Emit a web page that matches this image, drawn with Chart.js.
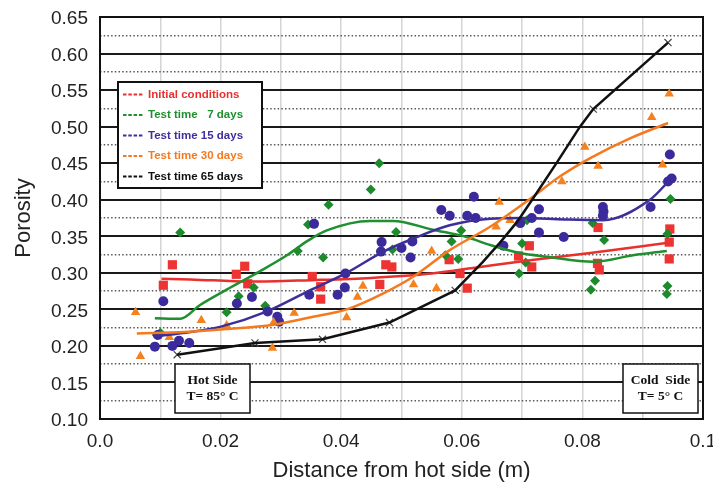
<!DOCTYPE html>
<html>
<head>
<meta charset="utf-8">
<script src="https://cdn.jsdelivr.net/npm/chart.js@4.4.0/dist/chart.umd.min.js"></script>
<style>
  html, body { margin: 0; padding: 0; background: #fff; }
  #wrap { width: 713px; height: 487px; }
</style>
</head>
<body>
<div id="wrap"><canvas id="chart" width="713" height="487"></canvas></div>
<script>
// measured samples, [distance from hot side (m), porosity]
const initialPoints = [[0.0105, 0.283], [0.012, 0.311], [0.0226, 0.298], [0.024, 0.309], [0.0245, 0.285],
  [0.0352, 0.295], [0.0366, 0.281], [0.0366, 0.264], [0.0464, 0.284], [0.0474, 0.311], [0.0484, 0.308],
  [0.0579, 0.318], [0.0597, 0.299], [0.0609, 0.279], [0.0694, 0.323], [0.0712, 0.337], [0.0716, 0.308],
  [0.0826, 0.362], [0.0825, 0.313], [0.0828, 0.304], [0.0945, 0.36], [0.0944, 0.342], [0.0944, 0.319]];

const day7Points = [[0.0094, 0.215], [0.01, 0.218], [0.0133, 0.355], [0.021, 0.246], [0.023, 0.268],
  [0.0255, 0.28], [0.0274, 0.255], [0.0328, 0.33], [0.0345, 0.366], [0.037, 0.321], [0.0379, 0.393],
  [0.0449, 0.414], [0.0463, 0.45], [0.0485, 0.332], [0.0491, 0.356], [0.0573, 0.324], [0.0583, 0.343],
  [0.0594, 0.319], [0.0599, 0.358], [0.0695, 0.299], [0.07, 0.34], [0.0706, 0.314], [0.0708, 0.372],
  [0.0814, 0.277], [0.0817, 0.368], [0.0821, 0.289], [0.0836, 0.345], [0.094, 0.271], [0.0941, 0.282],
  [0.0941, 0.353], [0.0946, 0.401]];

const day15Points = [[0.0091, 0.199], [0.0096, 0.215], [0.0105, 0.261], [0.012, 0.2], [0.0131, 0.207],
  [0.0148, 0.204], [0.0227, 0.258], [0.0252, 0.267], [0.0278, 0.247], [0.0294, 0.24], [0.0297, 0.233],
  [0.0347, 0.27], [0.0355, 0.367], [0.0394, 0.27], [0.0406, 0.28], [0.0407, 0.299], [0.0466, 0.329],
  [0.0467, 0.342], [0.05, 0.334], [0.0515, 0.321], [0.0518, 0.343], [0.0566, 0.386], [0.058, 0.378],
  [0.0609, 0.378], [0.062, 0.404], [0.0623, 0.375], [0.0669, 0.337], [0.0697, 0.368], [0.0716, 0.375],
  [0.0728, 0.387], [0.0728, 0.355], [0.0769, 0.349], [0.0834, 0.39], [0.0835, 0.384], [0.0834, 0.378],
  [0.0913, 0.39], [0.0945, 0.462], [0.0948, 0.429], [0.0942, 0.425]];

const day30Points = [[0.0059, 0.246], [0.0067, 0.186], [0.0115, 0.212], [0.0168, 0.235], [0.021, 0.228],
  [0.0286, 0.197], [0.0288, 0.232], [0.0322, 0.245], [0.0409, 0.239], [0.0427, 0.267], [0.0436, 0.282],
  [0.052, 0.284], [0.055, 0.33], [0.0558, 0.279], [0.0657, 0.363], [0.0662, 0.397], [0.068, 0.372],
  [0.0766, 0.425], [0.0804, 0.472], [0.0826, 0.446], [0.0915, 0.513], [0.0933, 0.448], [0.0944, 0.545]];

const day65Points = [[0.0128, 0.188], [0.0257, 0.204], [0.0369, 0.209], [0.048, 0.232], [0.0589, 0.276],
  [0.0818, 0.524], [0.0942, 0.615]];

// fitted trend curves
const initialCurve = [[0.0102, 0.292], [0.015, 0.291], [0.025, 0.288], [0.035, 0.29], [0.045, 0.293],
  [0.055, 0.299], [0.063, 0.308], [0.072, 0.318], [0.0813, 0.327], [0.0942, 0.341]];
const day7Curve = [[0.0091, 0.238], [0.0133, 0.237], [0.0166, 0.256], [0.021, 0.277], [0.0265, 0.302],
  [0.031, 0.324], [0.0345, 0.344], [0.0376, 0.358], [0.0448, 0.371], [0.0486, 0.371], [0.0552, 0.359],
  [0.0608, 0.349], [0.0647, 0.338], [0.0697, 0.327], [0.0741, 0.322], [0.0818, 0.315], [0.0884, 0.324],
  [0.094, 0.33]];
const day15Curve = [[0.009, 0.213], [0.015, 0.219], [0.0199, 0.226], [0.0276, 0.247], [0.0348, 0.276],
  [0.0409, 0.3], [0.047, 0.329], [0.052, 0.347], [0.058, 0.365], [0.0647, 0.374], [0.07, 0.375],
  [0.077, 0.373], [0.0834, 0.372], [0.0912, 0.4], [0.0945, 0.427]];
const day30Curve = [[0.0061, 0.217], [0.014, 0.219], [0.021, 0.223], [0.0287, 0.229], [0.0348, 0.239],
  [0.0409, 0.25], [0.047, 0.272], [0.052, 0.295], [0.058, 0.331], [0.0647, 0.363], [0.0713, 0.401],
  [0.0763, 0.432], [0.0813, 0.457], [0.0879, 0.484], [0.0942, 0.505]];
const day65Curve = [[0.0128, 0.188], [0.0257, 0.204], [0.0369, 0.209], [0.048, 0.232], [0.0589, 0.276],
  [0.0635, 0.315], [0.0663, 0.341], [0.0692, 0.37], [0.072, 0.404], [0.0757, 0.45], [0.0796, 0.5],
  [0.0818, 0.524], [0.0942, 0.615]];

const legendLabels = ['Initial conditions', 'Test time   7 days', 'Test time 15 days',
  'Test time 30 days', 'Test time 65 days'];

const lineColors = ['#e8312f', '#1f8f2f', '#3d2f9a', '#f5791f', '#111111'];
const markerColors = ['#ee3333', '#1d8a2c', '#3b2a9b', '#f5821f', '#444444'];

const toXY = arr => arr.map(([x, y]) => ({ x, y }));
const isMajor = v => Math.round(v * 1000) % 50 === 0;
const axisFont = { family: '"Liberation Sans", Arial, sans-serif', size: 19 };

function curve(data, i, monotone) {
    return {
        data: toXY(data),
        showLine: true,
        borderColor: lineColors[i],
        borderWidth: 2.5,
        pointRadius: 0,
        tension: monotone ? 0.4 : 0,
        cubicInterpolationMode: monotone ? 'monotone' : 'default'
    };
}

function markers(data, i, style, radius) {
    return {
        data: toXY(data),
        showLine: false,
        pointStyle: style,
        pointRadius: radius,
        pointBackgroundColor: markerColors[i],
        pointBorderColor: markerColors[i],
        pointBorderWidth: style === 'crossRot' ? 1.2 : 0
    };
}

function drawBox(ctx, x, y, w, h, lines) {
    ctx.fillStyle = '#fff';
    ctx.fillRect(x, y, w, h);
    ctx.strokeStyle = '#111';
    ctx.lineWidth = 1.5;
    ctx.strokeRect(x, y, w, h);
    ctx.fillStyle = '#111';
    ctx.font = 'bold 13.5px "Liberation Serif", "Times New Roman", serif';
    ctx.textAlign = 'center';
    ctx.textBaseline = 'middle';
    ctx.fillText(lines[0], x + w / 2, y + 17);
    ctx.fillText(lines[1], x + w / 2, y + 33);
}

const overlay = {
    id: 'overlay',
    afterDraw(chart) {
        const { ctx, chartArea: a } = chart;
        ctx.save();

        // frame round the plot
        ctx.strokeStyle = '#111';
        ctx.lineWidth = 2;
        ctx.strokeRect(a.left, a.top, a.right - a.left, a.bottom - a.top);

        // legend
        const lx = a.left + 18, ly = a.top + 65, lw = 144, lh = 106;
        ctx.fillStyle = '#fff';
        ctx.fillRect(lx, ly, lw, lh);
        ctx.strokeStyle = '#111';
        ctx.lineWidth = 2;
        ctx.strokeRect(lx, ly, lw, lh);
        ctx.font = 'bold 11.5px "Liberation Sans", Arial, sans-serif';
        ctx.textBaseline = 'middle';
        ctx.textAlign = 'left';
        legendLabels.forEach((label, i) => {
            const y = ly + 12.5 + i * 20.5;
            ctx.strokeStyle = lineColors[i];
            ctx.lineWidth = 2;
            ctx.setLineDash([3.5, 1.8]);
            ctx.beginPath();
            ctx.moveTo(lx + 5, y);
            ctx.lineTo(lx + 25, y);
            ctx.stroke();
            ctx.setLineDash([]);
            ctx.fillStyle = lineColors[i];
            ctx.fillText(label, lx + 30, y);
        });

        // hot / cold side notes
        drawBox(ctx, a.left + 75, a.bottom - 55, 75, 49, ['Hot Side', 'T= 85° C']);
        drawBox(ctx, a.right - 80, a.bottom - 55, 75, 49, ['Cold  Side', 'T= 5° C']);

        ctx.restore();
    }
};

new Chart(document.getElementById('chart'), {
    type: 'scatter',
    data: {
        datasets: [
            curve(day65Curve, 4, false),
            curve(day30Curve, 3, true),
            curve(day15Curve, 2, true),
            curve(day7Curve, 1, true),
            curve(initialCurve, 0, true),
            markers(day65Points, 4, 'crossRot', 5),
            markers(day30Points, 3, 'triangle', 5.5),
            markers(day15Points, 2, 'circle', 5),
            markers(day7Points, 1, 'rectRot', 5),
            markers(initialPoints, 0, 'rect', 6.5)
        ]
    },
    options: {
        responsive: false,
        animation: false,
        layout: { padding: { top: 17, right: 10, left: 0, bottom: 0 } },
        plugins: {
            legend: { display: false },
            tooltip: { enabled: false }
        },
        scales: {
            x: {
                type: 'linear',
                min: 0,
                max: 0.1,
                afterFit: s => { s.height = 68; s.paddingLeft = 0; s.paddingRight = 0; },
                ticks: {
                    stepSize: 0.01,
                    autoSkip: false,
                    maxRotation: 0,
                    padding: 11,
                    color: '#222',
                    font: axisFont,
                    callback: v => {
                        const k = Math.round(v * 1000);
                        if (k % 20 !== 0) return '';
                        if (k === 0) return '0.0';
                        if (k === 100) return '0.1';
                        return v.toFixed(2);
                    }
                },
                grid: { color: '#d4d4d4', lineWidth: 1.5, drawTicks: false },
                border: { display: false },
                title: {
                    display: true,
                    text: 'Distance from hot side (m)',
                    color: '#222',
                    font: { family: '"Liberation Sans", Arial, sans-serif', size: 22 },
                    padding: { top: 0, bottom: 3 }
                }
            },
            y: {
                min: 0.1,
                max: 0.65,
                afterFit: s => { s.width = 100; s.paddingTop = 0; s.paddingBottom = 0; },
                ticks: {
                    stepSize: 0.025,
                    autoSkip: false,
                    padding: 12,
                    labelOffset: 2,
                    color: '#222',
                    font: axisFont,
                    callback: v => isMajor(v) ? v.toFixed(2) : ''
                },
                grid: {
                    drawTicks: false,
                    color: c => c.tick && isMajor(c.tick.value) ? '#1a1a1a' : '#5a5a5a',
                    lineWidth: c => c.tick && isMajor(c.tick.value) ? 2 : 1.5
                },
                border: {
                    display: false,
                    dash: c => c.tick && !isMajor(c.tick.value) ? [1.5, 2.2] : []
                },
                title: {
                    display: true,
                    text: 'Porosity',
                    color: '#222',
                    font: { family: '"Liberation Sans", Arial, sans-serif', size: 22 },
                    padding: { top: 11, bottom: 0 }
                }
            }
        }
    },
    plugins: [overlay]
});
</script>
</body>
</html>
